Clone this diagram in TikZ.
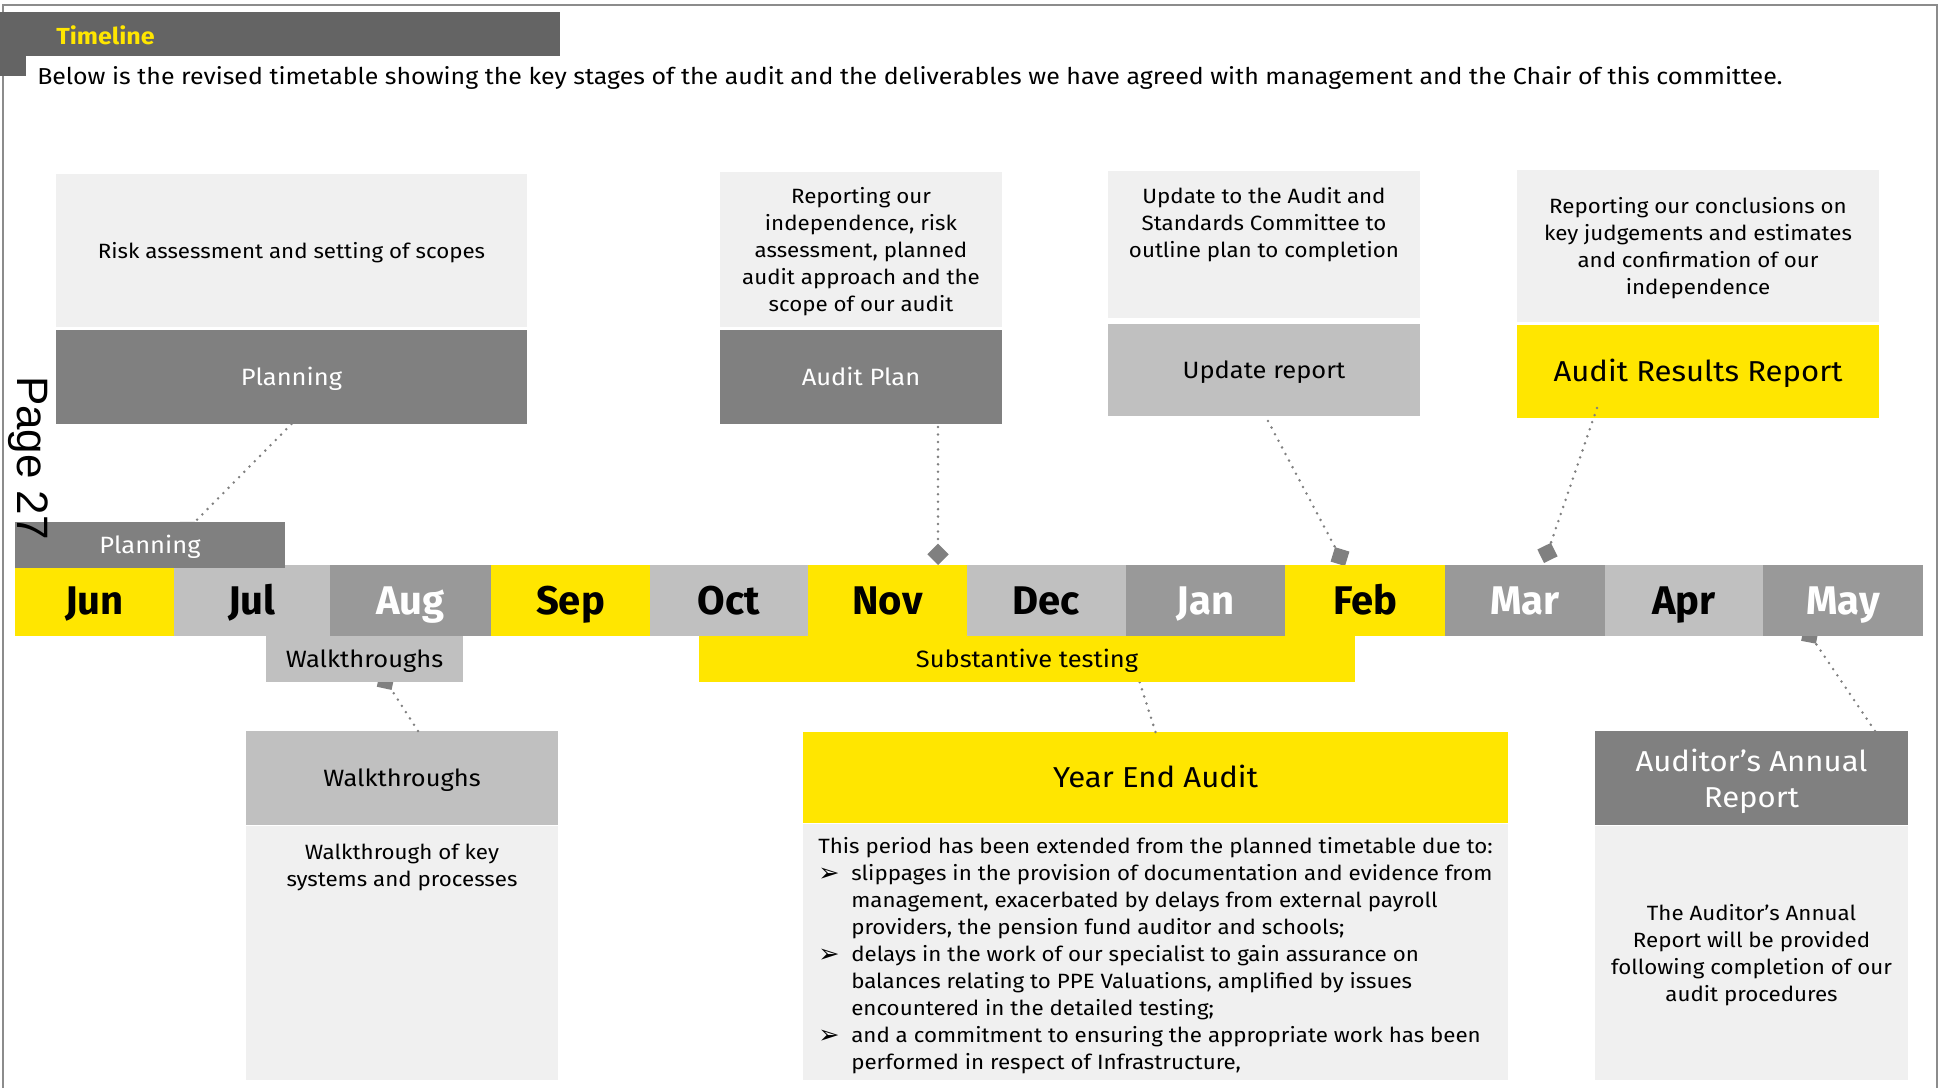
\documentclass[tikz,border=0pt]{standalone}
\usepackage{fontspec}
\setmainfont{Fira Sans}[FakeStretch=1.08]
\newfontfamily\monfont{Fira Sans}
\newfontfamily\pagefont{Liberation Sans}
\newfontfamily\symfont{DejaVu Sans}
\usetikzlibrary{arrows.meta}
\definecolor{eyY}{HTML}{FFE600}
\definecolor{hdr}{HTML}{646464}
\definecolor{midG}{HTML}{808080}
\definecolor{monG}{HTML}{999999}
\definecolor{litG}{HTML}{C0C0C0}
\definecolor{bodG}{HTML}{F0F0F0}
\definecolor{bord}{HTML}{8C8C8C}
% box with its centred text: name, x1, y1, x2, y2, box style, text style, text
\newcommand\bx[8]{\node[anchor=north west,inner sep=0pt,outer sep=0pt,minimum width={(#4-#2)*0.75pt},minimum height={(#5-#3)*0.75pt},#6] (#1) at (#2,#3) {};
  \node[inner sep=0pt,align=center,#7] (#1t) at (#1.center) {#8};}
\newcommand\bul{\makebox[24.75pt][l]{\hspace{0pt}\raisebox{-0.5pt}{\symfont\fontsize{19pt}{19pt}\selectfont ➢}}}
\newcommand\ind{\hspace*{24.75pt}}
\tikzset{
  lab/.style={font=\fontsize{17.7pt}{21pt}\selectfont,text height=12.2pt,text depth=0pt},
  body/.style={font=\fontsize{15.5pt}{20.25pt}\selectfont,yshift=-1.9pt},
  big/.style={font=\fontsize{21.6pt}{27pt}\selectfont,text height=14.9pt,text depth=0pt},
  bigml/.style={font=\fontsize{21.6pt}{27pt}\selectfont,yshift=-2.8pt},
  mon/.style={font=\monfont\fontsize{30pt}{30pt}\selectfont\bfseries,text height=20.7pt,text depth=0pt},
  conn/.style={draw=midG,line width=2.1pt,line cap=round,dash pattern=on 0pt off 5.6pt,
    -{Diamond[length=16pt,width=16pt,fill=midG]}}
}
\begin{document}
\begin{tikzpicture}[x=0.75pt,y=-0.75pt]
\useasboundingbox (0,0) rectangle (1940,1088);
% frame
\draw[bord,line width=1.8pt] (3,1088) -- (3,5) -- (1937,5) -- (1937,1088);
% header
\node[anchor=north west,inner sep=0pt,outer sep=0pt,minimum width={560*0.75pt},minimum height={44*0.75pt},fill=hdr] (hdr) at (0,12) {};
\fill[hdr] (0,55) rectangle (26,76);
\node[anchor=west,inner sep=0pt,text=eyY,font=\fontsize{17.4pt}{20pt}\selectfont\bfseries] (ttl) at (56,35) {Timeline};
\node[anchor=west,inner sep=0pt,font=\fontsize{17.3pt}{20pt}\selectfont] (intro) at (37,78) {Below is the revised timetable showing the key stages of the audit and the deliverables we have agreed with management and the Chair of this committee.};
% top boxes
\bx{risk}{56}{174}{527}{327}{fill=bodG}{body}{Risk assessment and setting of scopes}
\bx{plan}{56}{330}{527}{424}{fill=midG}{lab,text=white}{Planning}
\bx{rep}{720}{172}{1002}{327}{fill=bodG}{body}{Reporting our\\independence, risk\\assessment, planned\\audit approach and the\\scope of our audit}
\bx{aplan}{720}{330}{1002}{424}{fill=midG}{lab,text=white}{Audit Plan}
\node[anchor=north west,inner sep=0pt,outer sep=0pt,minimum width={312*0.75pt},minimum height={147*0.75pt},fill=bodG] (updt) at (1108,171) {};
\node[anchor=north,inner sep=0pt,align=center,body] (updtxt) at (1264,185) {Update to the Audit and\\Standards Committee to\\outline plan to completion};
\bx{upd}{1108}{324}{1420}{416}{fill=litG}{lab}{Update report}
\bx{concl}{1517}{170}{1879}{322}{fill=bodG}{body}{Reporting our conclusions on\\key judgements and estimates\\and confirmation of our\\independence}
\bx{arr}{1517}{325}{1879}{418}{fill=eyY}{big}{Audit Results Report}
% bottom boxes
\bx{wh}{246}{731}{558}{825}{fill=litG}{lab}{Walkthroughs}
\node[anchor=north west,inner sep=0pt,outer sep=0pt,minimum width={312*0.75pt},minimum height={254*0.75pt},fill=bodG] (wb) at (246,826) {};
\node[anchor=north,inner sep=0pt,align=center,body] (wbtxt) at (402,841) {Walkthrough of key\\systems and processes};
\bx{yh}{803}{732}{1508}{823}{fill=eyY}{big}{Year End Audit}
\node[anchor=north west,inner sep=0pt,outer sep=0pt,minimum width={705*0.75pt},minimum height={256*0.75pt},fill=bodG] (yb) at (803,824) {};
\node[anchor=north west,inner sep=0pt,align=left,body] (ybtxt) at (818,835) {This period has been extended from the planned timetable due to:\\
\bul slippages in the provision of documentation and evidence from\\
\ind management, exacerbated by delays from external payroll\\
\ind providers, the pension fund auditor and schools;\\
\bul delays in the work of our specialist to gain assurance on\\
\ind balances relating to PPE Valuations, amplified by issues\\
\ind encountered in the detailed testing;\\
\bul and a commitment to ensuring the appropriate work has been\\
\ind performed in respect of Infrastructure,};
\bx{ah}{1595}{731}{1908}{825}{fill=midG}{bigml,text=white}{Auditor’s Annual\\Report}
\bx{ab}{1595}{826}{1908}{1080}{fill=bodG}{body}{The Auditor’s Annual\\Report will be provided\\following completion of our\\audit procedures}
% connectors
\coordinate (e1) at (180,537);
\draw[conn] (plan.south) -- (e1);
\coordinate (e2) at (938,565);
\draw[conn] ([xshift=57.75pt,yshift=-2.25pt]aplan.south) -- (e2);
\coordinate (e3) at (1345,566);
\draw[conn] ([xshift=3pt,yshift=-3.75pt]upd.south) -- (e3);
\coordinate (e4) at (1544,563);
\draw[conn] ([xshift=-75.75pt,yshift=7.5pt]arr.south) -- (e4);
\coordinate (e5) at (380,672);
\draw[conn] ([xshift=12pt]wh.north) -- (e5);
\coordinate (e6) at (1131,655);
\draw[conn] (yh.north) -- (e6);
\coordinate (e7) at (1804,626);
\draw[conn] ([xshift=92.6pt]ah.north) -- (e7);
% months
\foreach \n/\a/\b/\c/\t/\m in {jun/15/174/eyY/black/Jun, jul/174/330/litG/black/Jul,
  aug/330/491/monG/white/Aug, sep/491/650/eyY/black/Sep, oct/650/808/litG/black/Oct,
  nov/808/967/eyY/black/Nov, dec/967/1126/litG/black/Dec, jan/1126/1285/monG/white/Jan,
  feb/1285/1445/eyY/black/Feb, mar/1445/1605/monG/white/Mar, apr/1605/1763/litG/black/Apr,
  may/1763/1923/monG/white/May}
  {\bx{\n}{\a}{565}{\b}{636}{fill=\c}{mon,text=\t}{\m}}
% phase bars
\bx{planbar}{15}{522}{285}{568}{fill=midG}{lab,text=white}{Planning}
\bx{walkbar}{266}{636}{463}{682}{fill=litG}{lab}{Walkthroughs}
\bx{subbar}{699}{636}{1355}{682}{fill=eyY}{lab}{Substantive testing}
% page number
\node[rotate=-90,inner sep=0pt,font=\pagefont\fontsize{33pt}{33pt}\selectfont] (pg) at (28.5,458) {Page 27};
\end{tikzpicture}
\end{document}
